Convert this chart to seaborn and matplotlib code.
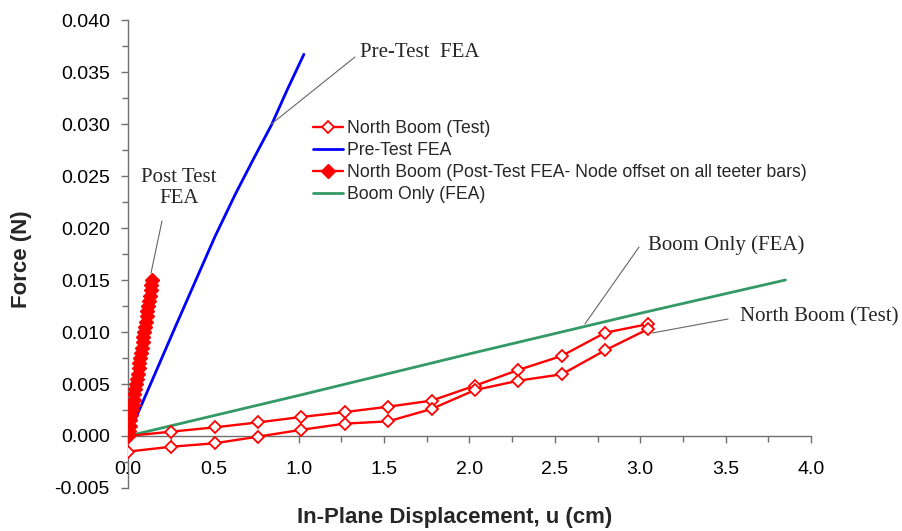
import matplotlib
matplotlib.use("Agg")
import matplotlib.pyplot as plt
from matplotlib.ticker import MultipleLocator, FormatStrFormatter
import seaborn as sns
import pandas as pd

# ---- data ----
test_x = [0.0, 0.254, 0.508, 0.762, 1.016, 1.270, 1.524, 1.778, 2.032, 2.286, 2.540, 2.794, 3.048,
          3.048, 2.794, 2.540, 2.286, 2.032, 1.778, 1.524, 1.270, 1.016, 0.762, 0.508, 0.254, 0.0]
test_y = [0.0, 0.00042, 0.00083, 0.00131, 0.00183, 0.0023, 0.00282, 0.0034, 0.00484, 0.00635, 0.0077,
          0.00993, 0.01077, 0.0103, 0.00824, 0.00593, 0.00532, 0.00442, 0.0026, 0.00141, 0.00119,
          0.0006, -0.00006, -0.0007, -0.00103, -0.0015]

pre_x = [0.0, 0.28, 0.51, 0.63, 0.74, 0.84, 0.93, 1.03]
pre_y = [0.0, 0.0106, 0.0192, 0.0233, 0.0268, 0.0299, 0.0332, 0.0367]

post_x = [0.0, 0.005, 0.010, 0.014, 0.019, 0.024, 0.029, 0.033, 0.038, 0.043, 0.047, 0.052, 0.057,
          0.062, 0.066, 0.071, 0.076, 0.080, 0.085, 0.090, 0.095, 0.099, 0.104, 0.109, 0.113, 0.118,
          0.123, 0.127, 0.132, 0.137, 0.142]
post_y = [0.0, 0.0005, 0.001, 0.0015, 0.002, 0.0025, 0.003, 0.0035, 0.004, 0.0045, 0.005, 0.0055,
          0.006, 0.0065, 0.007, 0.0075, 0.008, 0.0085, 0.009, 0.0095, 0.010, 0.0105, 0.011, 0.0115,
          0.012, 0.0125, 0.013, 0.0135, 0.014, 0.0145, 0.015]

boom_x = [0.0, 1.0, 2.0, 3.0, 3.85]
boom_y = [0.0, 0.0039, 0.0079, 0.0118, 0.0150]

labels = ["North Boom (Test)", "Pre-Test FEA",
          "North Boom (Post-Test FEA- Node offset on all teeter bars)", "Boom Only (FEA)"]

# ---- style ----
sns.set_style("ticks")
plt.rcParams["font.family"] = ["Liberation Sans", "DejaVu Sans"]

fig = plt.figure(figsize=(9.03, 5.31), dpi=100)
W, H = 903, 531
ax = fig.add_axes([128 / W, 1 - 488 / H, 683 / W, 468 / H])

RED, BLUE, GREEN = "#FF0000", "#0000FF", "#339966"

sns.lineplot(data=pd.DataFrame({"x": test_x, "y": test_y}), x="x", y="y", sort=False,
             estimator=None, ax=ax, color=RED, lw=1.7, marker="D", markersize=6.2,
             markerfacecolor="white", markeredgecolor=RED, markeredgewidth=1.3,
             label=labels[0], zorder=3)
sns.lineplot(data=pd.DataFrame({"x": pre_x, "y": pre_y}), x="x", y="y", sort=False,
             estimator=None, ax=ax, color=BLUE, lw=2.0, label=labels[1], zorder=2)
sns.lineplot(data=pd.DataFrame({"x": post_x, "y": post_y}), x="x", y="y", sort=False,
             estimator=None, ax=ax, color=RED, lw=1.7, marker="D", markersize=6.8,
             markerfacecolor=RED, markeredgecolor=RED, markeredgewidth=1.0,
             label=labels[2], zorder=5)
sns.lineplot(data=pd.DataFrame({"x": boom_x, "y": boom_y}), x="x", y="y", sort=False,
             estimator=None, ax=ax, color=GREEN, lw=2.0, label=labels[3], zorder=2)

# ---- axes ----
ax.set_xlim(0, 4.0)
ax.set_ylim(-0.005, 0.040)
ax.spines["top"].set_visible(False)
ax.spines["right"].set_visible(False)
ax.spines["bottom"].set_position(("data", 0))
for s in ("left", "bottom"):
    ax.spines[s].set_color("#707070")
    ax.spines[s].set_linewidth(1.0)

ax.xaxis.set_major_locator(MultipleLocator(0.5))
ax.xaxis.set_minor_locator(MultipleLocator(0.25))
ax.yaxis.set_major_locator(MultipleLocator(0.005))
ax.yaxis.set_minor_locator(MultipleLocator(0.0025))
ax.xaxis.set_major_formatter(FormatStrFormatter("%.1f"))
ax.yaxis.set_major_formatter(FormatStrFormatter("%.3f"))

ax.tick_params(axis="both", which="both", direction="out", color="#707070", width=1.0)
ax.tick_params(axis="both", which="major", length=5, labelsize=14, labelcolor="black")
ax.tick_params(axis="both", which="minor", length=4.5)
ax.tick_params(axis="x", which="major", pad=13)
ax.tick_params(axis="y", which="major", pad=8)

ax.set_xlabel("In-Plane Displacement, u (cm)", fontsize=16, fontweight="bold")
ax.set_ylabel("Force (N)", fontsize=16, fontweight="bold")
ax.xaxis.set_label_coords((455 - 128) / 683, (488 - 517) / 468)
ax.xaxis.label.set_va("center")
ax.yaxis.set_label_coords((22 - 128) / 683, (488 - 259) / 468)
ax.yaxis.label.set_va("center")

# ---- legend ----
handles, lbls = ax.get_legend_handles_labels()
ax.legend(handles, lbls, loc="upper left", bbox_to_anchor=(313 / W, 1 - 120 / H),
          bbox_transform=fig.transFigure, frameon=False, fontsize=12.7, borderpad=0,
          borderaxespad=0, handlelength=1.7, handletextpad=0.25, labelspacing=0.28)

# ---- annotations ----
serif = ["Liberation Serif", "DejaVu Serif"]
line_kw = dict(arrowprops=dict(arrowstyle="-", color="#666666", lw=0.8, shrinkA=0, shrinkB=0))
ax.annotate("", xy=(0.8375, 0.02997), xytext=(1.329, 0.03644), **line_kw)
ax.annotate("", xy=(0.1347, 0.01567), xytext=(0.199, 0.02067), **line_kw)
ax.annotate("", xy=(2.676, 0.01077), xytext=(2.993, 0.01817), **line_kw)
ax.annotate("", xy=(3.069, 0.0099), xytext=(3.514, 0.01125), **line_kw)

ax.text(1.359, 0.03692, "Pre-Test  FEA", family=serif, fontsize=15, ha="left", va="center")
ax.text(0.2987, 0.02385, "Post Test\nFEA", family=serif, fontsize=15, ha="center", va="center",
        multialignment="center", linespacing=1.2)
ax.text(3.045, 0.01837, "Boom Only (FEA)", family=serif, fontsize=15, ha="left", va="center")
ax.text(3.584, 0.01144, "North Boom (Test)", family=serif, fontsize=15, ha="left", va="center")

fig.savefig("out.png", dpi=100)
